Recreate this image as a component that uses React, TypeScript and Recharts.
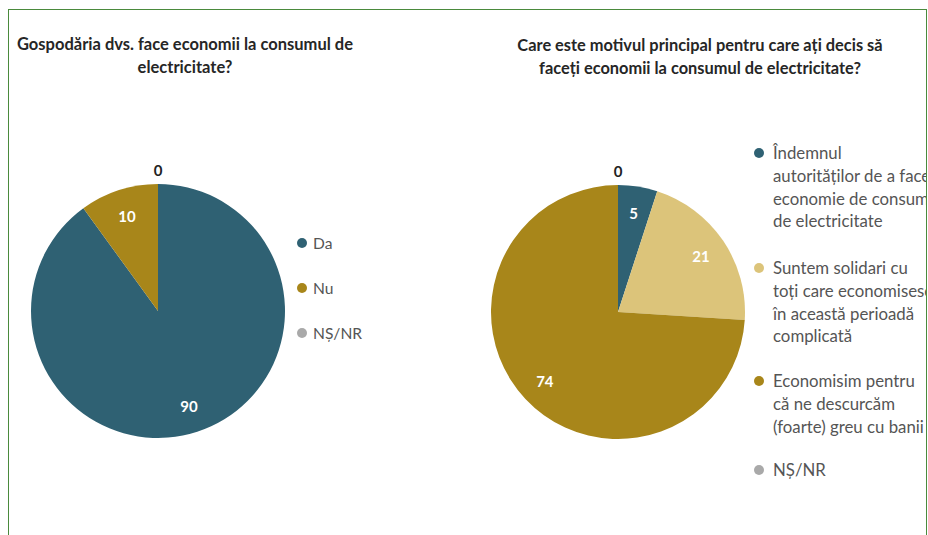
import React from 'react';
import { PieChart, Pie, Cell } from 'recharts';

const q1Title = ['Gospodăria dvs. face economii la consumul de', 'electricitate?'];
const q1Names = ['Da', 'Nu', 'NȘ/NR'];
const q1Values = [90, 10, 0];
const q1Colors = ['#2f6173', '#a8861a', '#a9a9a9'];

const q2Title = ['Care este motivul principal pentru care ați decis să', 'faceți economii la consumul de electricitate?'];
const q2Names = [
  'Îndemnul autorităților de a face economie de consum de electricitate',
  'Suntem solidari cu toți care economisesc în această perioadă complicată',
  'Economisim pentru că ne descurcăm (foarte) greu cu banii',
  'NȘ/NR',
];
const q2LegendLines = [
  ['Îndemnul', 'autorităților de a face', 'economie de consum', 'de electricitate'],
  ['Suntem solidari cu', 'toți care economisesc', 'în această perioadă', 'complicată'],
  ['Economisim pentru', 'că ne descurcăm', '(foarte) greu cu banii'],
  ['NȘ/NR'],
];
const q2Values = [5, 21, 74, 0];
const q2Colors = ['#2f6173', '#dcc47a', '#a8861a', '#a9a9a9'];

const q1Data = q1Names.map((name, i) => ({ name, value: q1Values[i] }));
const q2Data = q2Names.map((name, i) => ({ name, value: q2Values[i] }));

const FONT = 'Lato, "Open Sans", sans-serif';
const RAD = Math.PI / 180;

const renderLabel = (props: any) => {
  const { cx, cy, midAngle, outerRadius, value } = props;
  const zero = value === 0;
  const r = zero ? outerRadius + 14 : outerRadius * 0.79;
  const x = cx + r * Math.cos(-midAngle * RAD);
  const y = cy + r * Math.sin(-midAngle * RAD);
  return (
    <text
      x={x}
      y={y}
      textAnchor="middle"
      dominantBaseline="central"
      fill={zero ? '#222' : '#ffffff'}
      fontFamily={FONT}
      fontWeight={700}
      fontSize={15}
    >
      {value}
    </text>
  );
};

const Bullet = ({ color, left }: { color: string; left: number }) => (
  <span
    style={{
      position: 'absolute',
      left,
      top: 6,
      width: 10,
      height: 10,
      borderRadius: '50%',
      background: color,
    }}
  />
);

export default function App() {
  return (
    <div
      style={{
        position: 'absolute',
        left: 0,
        top: 0,
        width: 928,
        height: 535,
        background: '#fff',
        overflow: 'hidden',
        fontFamily: FONT,
      }}
    >
      {/* Legend 2 (drawn first so border sits over clipped text) */}
      {q2LegendLines.map((lines, i) => {
        const tops = [142, 257, 370, 459];
        return (
          <div
            key={i}
            style={{
              position: 'absolute',
              left: 773,
              top: tops[i],
              fontSize: 16.8,
              lineHeight: '22.8px',
              color: '#555',
              whiteSpace: 'nowrap',
            }}
          >
            <Bullet color={q2Colors[i]} left={-19} />
            {lines.map((l) => (
              <div key={l}>{l}</div>
            ))}
          </div>
        );
      })}
      <div
        style={{
          position: 'absolute',
          left: 927,
          top: 0,
          width: 1,
          height: 535,
          background: '#fff',
        }}
      />
      <div
        style={{
          position: 'absolute',
          left: 8,
          top: 9,
          width: 917,
          height: 540,
          borderLeft: '1px solid #4a8a3c',
          borderTop: '1px solid #4a8a3c',
          borderRight: '1px solid #4a8a3c',
        }}
      />
      {/* Titles */}
      <div
        style={{
          position: 'absolute',
          left: 0,
          top: 33,
          width: 370,
          textAlign: 'center',
          fontWeight: 700,
          fontSize: 16.5,
          lineHeight: '23px',
          color: '#262626',
          whiteSpace: 'nowrap',
        }}
      >
        {q1Title.map((t) => (
          <div key={t}>{t}</div>
        ))}
      </div>
      <div
        style={{
          position: 'absolute',
          left: 490,
          top: 33,
          width: 420,
          textAlign: 'center',
          fontWeight: 700,
          fontSize: 16.4,
          lineHeight: '23px',
          color: '#262626',
          whiteSpace: 'nowrap',
        }}
      >
        {q2Title.map((t) => (
          <div key={t}>{t}</div>
        ))}
      </div>

      <div style={{ position: 'absolute', left: 0, top: 0 }}>
        <PieChart width={928} height={535}>
          <Pie
            data={q1Data}
            dataKey="value"
            nameKey="name"
            cx={153}
            cy={306}
            outerRadius={127}
            startAngle={90}
            endAngle={-270}
            stroke="none"
            label={renderLabel}
            labelLine={false}
            isAnimationActive={false}
          >
            {q1Data.map((d, i) => (
              <Cell key={d.name} fill={q1Colors[i]} />
            ))}
          </Pie>
          <Pie
            data={q2Data}
            dataKey="value"
            nameKey="name"
            cx={613}
            cy={307}
            outerRadius={127}
            startAngle={90}
            endAngle={-270}
            stroke="none"
            label={renderLabel}
            labelLine={false}
            isAnimationActive={false}
          >
            {q2Data.map((d, i) => (
              <Cell key={d.name} fill={q2Colors[i]} />
            ))}
          </Pie>
        </PieChart>
      </div>

      {/* Legend 1 */}
      {q1Names.map((n, i) => (
        <div
          key={n}
          style={{
            position: 'absolute',
            left: 313,
            top: 232 + i * 45,
            fontSize: 15.6,
            lineHeight: '22px',
            color: '#555',
          }}
        >
          <Bullet color={q1Colors[i]} left={-16} />
          {n}
        </div>
      ))}
    </div>
  );
}
